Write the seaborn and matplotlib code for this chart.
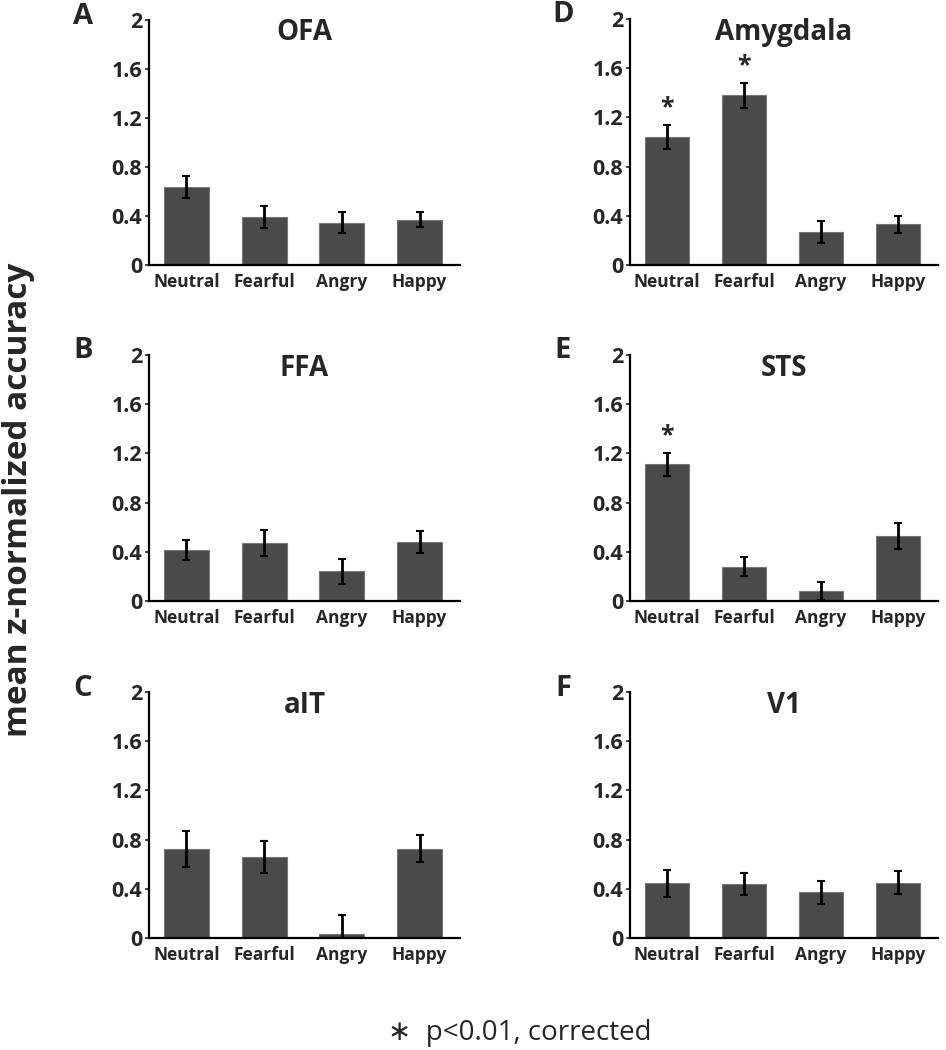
import numpy as np
import pandas as pd
import matplotlib
matplotlib.use("Agg")
import matplotlib.pyplot as plt
import seaborn as sns

# emotion conditions on every panel
conditions = ["Neutral", "Fearful", "Angry", "Happy"]

# mean z-normalized accuracy and error bars
ofa_mean = [0.64, 0.39, 0.345, 0.37]
ofa_err = [0.09, 0.09, 0.087, 0.06]
ffa_mean = [0.415, 0.47, 0.24, 0.48]
ffa_err = [0.085, 0.105, 0.10, 0.09]
ait_mean = [0.725, 0.655, 0.035, 0.725]
ait_err = [0.145, 0.13, 0.155, 0.11]
amy_mean = [1.04, 1.38, 0.27, 0.33]
amy_err = [0.095, 0.10, 0.09, 0.07]
sts_mean = [1.11, 0.28, 0.08, 0.53]
sts_err = [0.095, 0.076, 0.072, 0.106]
v1_mean = [0.445, 0.436, 0.37, 0.45]
v1_err = [0.11, 0.09, 0.095, 0.096]

# significant bars (p<0.01, corrected)
amy_sig = [True, True, False, False]
sts_sig = [True, False, False, False]
no_sig = [False, False, False, False]

yticks = [0, 0.4, 0.8, 1.2, 1.6, 2]
ytick_labels = ["0", "0.4", "0.8", "1.2", "1.6", "2"]

sns.set_style("ticks")
plt.rcParams["font.family"] = ["Open Sans", "DejaVu Sans"]

W, H = 946, 1050
fig = plt.figure(figsize=(W / 100, H / 100), dpi=100)

BAR = "#4a4a4a"

panels = [
    ("A", "OFA", ofa_mean, ofa_err, no_sig, (149, 460, 20, 265)),
    ("B", "FFA", ffa_mean, ffa_err, no_sig, (149, 460, 355, 601)),
    ("C", "aIT", ait_mean, ait_err, no_sig, (149, 460, 692, 938)),
    ("D", "Amygdala", amy_mean, amy_err, amy_sig, (630, 938, 19, 265)),
    ("E", "STS", sts_mean, sts_err, sts_sig, (630, 938, 355, 601)),
    ("F", "V1", v1_mean, v1_err, no_sig, (630, 938, 692, 938)),
]

for letter, title, means, errs, sig, (x0, x1, ytop, ybot) in panels:
    ax = fig.add_axes([x0 / W, 1 - ybot / H, (x1 - x0) / W, (ybot - ytop) / H])
    df = pd.DataFrame({"condition": conditions, "value": means})
    sns.barplot(data=df, x="condition", y="value", color=BAR, saturation=1,
                width=0.58, errorbar=None, edgecolor="#777777", linewidth=0.8,
                ax=ax)
    ax.errorbar(range(len(conditions)), means, yerr=errs, fmt="none",
                ecolor="black", elinewidth=2, capsize=3, capthick=1.5, zorder=3)
    for i, s in enumerate(sig):
        if s:
            ax.text(i, means[i] + errs[i] + 0.14, "*", ha="center", va="center",
                    fontsize=18, fontweight="bold")
    ax.set_xlim(-0.48, 3.52)
    ax.set_ylim(0, 2)
    ax.set_yticks(yticks)
    ax.set_yticklabels(ytick_labels)
    ax.set_xlabel("")
    ax.set_ylabel("")
    sns.despine(ax=ax)
    for side in ["left", "bottom"]:
        ax.spines[side].set_linewidth(1.6)
        ax.spines[side].set_color("black")
    ax.tick_params(axis="y", length=3, width=1.2, pad=2, labelsize=15.5)
    ax.tick_params(axis="x", length=0, pad=6, labelsize=12.5)
    for lab in ax.get_yticklabels() + ax.get_xticklabels():
        lab.set_fontweight("bold")
    ax.text(0.5, 0.947, title, transform=ax.transAxes, ha="center", va="center",
            fontsize=20, fontweight="bold")
    lx = 83 if x0 < 500 else 563
    fig.text(lx / W, 1 - (ytop - 4) / H, letter, ha="center", va="center",
             fontsize=21, fontweight="bold")

fig.text(19 / W, 1 - 500 / H, "mean z-normalized accuracy", rotation=90,
         ha="center", va="center", fontsize=24, fontweight="bold")
fig.text(520 / W, 1 - 1033 / H, "\u2217  p<0.01, corrected", ha="center",
         va="center", fontsize=20)

fig.savefig("out.png", dpi=100)
